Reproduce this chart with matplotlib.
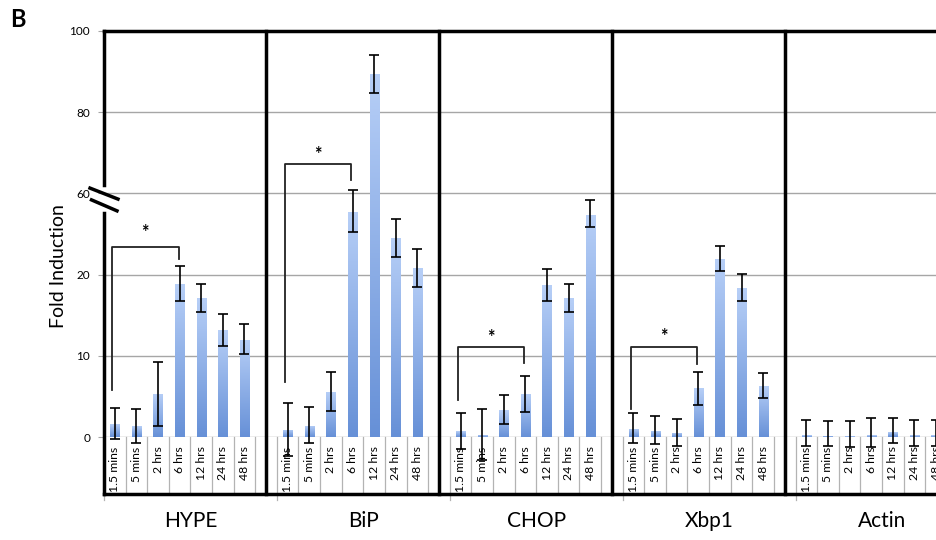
import numpy as np
import matplotlib
matplotlib.use("Agg")
import matplotlib.pyplot as plt
from matplotlib import transforms
from matplotlib.colors import LinearSegmentedColormap

plt.rcParams["font.family"] = ["Lato", "DejaVu Sans"]

genes = ["HYPE", "BiP", "CHOP", "Xbp1", "Actin"]
times = ["1.5 mins", "5 mins", "2 hrs", "6 hrs", "12 hrs", "24 hrs", "48 hrs"]

hype = [1.6, 1.3, 5.3, 18.8, 17.1, 13.2, 12.0]
hype_lo = [1.9, 2.0, 3.95, 2.1, 1.7, 2.0, 1.8]
hype_hi = [2.0, 2.1, 3.95, 5.4, 1.7, 2.0, 1.9]

bip = [0.9, 1.4, 5.6, 51.0, 89.4, 37.9, 23.1]
bip_lo = [3.3, 2.2, 2.35, 10.0, 4.6, 9.3, 4.6]
bip_hi = [3.3, 2.3, 2.4, 9.8, 4.7, 9.7, 9.5]

chop = [0.7, 0.3, 3.3, 5.3, 18.7, 17.1, 49.4]
chop_lo = [2.2, 3.1, 1.65, 2.2, 1.9, 1.75, 6.1]
chop_hi = [2.2, 3.1, 1.9, 2.25, 3.9, 1.7, 7.4]

xbp1 = [1.0, 0.8, 0.55, 6.0, 27.5, 18.3, 6.3]
xbp1_lo = [1.7, 1.7, 1.6, 2.0, 5.7, 1.6, 1.5]
xbp1_hi = [2.0, 1.8, 1.65, 2.0, 6.6, 2.0, 1.6]

actin = [0.2, 0.15, 0.1, 0.2, 0.6, 0.2, 0.2]
actin_lo = [1.3, 1.3, 1.3, 1.4, 1.3, 1.3, 1.3]
actin_hi = [1.9, 1.8, 1.9, 2.2, 1.8, 1.9, 1.9]

values = [hype, bip, chop, xbp1, actin]
errs_lo = [hype_lo, bip_lo, chop_lo, xbp1_lo, actin_lo]
errs_hi = [hype_hi, bip_hi, chop_hi, xbp1_hi, actin_hi]

# significance brackets: group, left end, top, right end, star height
brackets = [
    (0, 5.8, 33.4, 27.6, 40.6),
    (1, 6.8, 67.2, 63.4, 69.7),
    (2, 4.6, 11.05, 9.1, 12.2),
    (3, 3.5, 11.1, 9.0, 12.35),
]

yticks = [0, 10, 20, 60, 80, 100]
# broken axis: 0-20 normal, 20-60 squeezed, 60-100 half scale
brk_v = [0, 10, 20, 60, 80, 100]
brk_u = [0, 1, 2, 3, 4, 5]


def fwd(v):
    v = np.asarray(v, float)
    return np.where(v < 0, v / 10, np.interp(v, brk_v, brk_u))


def inv(u):
    u = np.asarray(u, float)
    return np.where(u < 0, u * 10, np.interp(u, brk_u, brk_v))


fig = plt.figure(figsize=(9.36, 5.4), dpi=100)
ax = fig.add_axes([104 / 936, 103 / 540, 832 / 936, 406 / 540])
ax.set_yscale("function", functions=(fwd, inv))
ax.set_xlim(-0.5, 38.0)
ax.set_ylim(0, 100)

cmap = LinearSegmentedColormap.from_list("bars", ["#b7cff7", "#6690d7"])
grad = np.repeat(np.linspace(1, 0, 512).reshape(-1, 1), 2, axis=1)
to_axes = ax.transData + ax.transAxes.inverted()

for g in range(len(genes)):
    xs = [8 * g + k for k in range(len(times))]
    bars = ax.bar(xs, values[g], width=0.42, color="none", zorder=2)
    for r in bars:
        x0 = r.get_x()
        (ax0, ay0), (ax1, ay1) = to_axes.transform([(x0, 0), (x0 + r.get_width(), r.get_height())])
        im = ax.imshow(grad, extent=(ax0, ax1, ay0, ay1), transform=ax.transAxes,
                       aspect="auto", cmap=cmap, origin="lower", zorder=2,
                       interpolation="bilinear", interpolation_stage="rgba")
        im.set_clip_path(r)
    eb = ax.errorbar(xs, values[g], yerr=[errs_lo[g], errs_hi[g]], fmt="none",
                     ecolor="black", elinewidth=1.2, capsize=3.5, capthick=1.2,
                     zorder=3)
    for art in list(eb.lines[1]) + list(eb.lines[2]):
        art.set_clip_on(False)

for g, yl, yt, yr, ys in brackets:
    left = 8 * g - 0.12
    right = 8 * g + 3 - 0.05
    ax.plot([left, left, right, right], [yl, yt, yt, yr], color="#222222", lw=1.3, zorder=3)
    ax.text(8 * g + 1.4, ys, "*", ha="center", va="center", fontsize=13, fontweight="bold")

ax.set_xlim(-0.5, 38.0)
ax.set_ylim(0, 100)
ax.set_yticks(yticks)
ax.set_xticks([])
ax.yaxis.grid(True, color="#a6a6a6", lw=1)
ax.set_axisbelow(True)
ax.tick_params(axis="y", length=4, color="#a6a6a6", labelsize=8.5, pad=6)

for s in ["left", "right", "bottom"]:
    ax.spines[s].set_visible(False)
ax.spines["top"].set_linewidth(2.5)

tr = transforms.blended_transform_factory(ax.transData, ax.transAxes)
zone = 57 / 406

# category boxes under the axis
for i in range(39):
    ax.plot([i + 0.5] * 2, [0, -zone], transform=tr, color="#b3b3b3", lw=0.9,
            clip_on=False, zorder=1)
for g in range(4):
    x = 8 * g + 7
    ax.plot([x, x], [1, -zone], transform=tr, color="black", lw=2.5,
            clip_on=False, zorder=4)
for g in range(5):
    x = 8 * g - 0.5
    ax.plot([x, x], [-zone, -zone - 0.015], transform=tr, color="#b3b3b3", lw=0.9,
            clip_on=False)
ax.plot([-0.5, 38.0], [-zone, -zone], transform=tr, color="black", lw=2.5,
        clip_on=False, zorder=4)

# broken left axis
ax.plot([-0.5, -0.5], [0.621, 1], transform=tr, color="black", lw=2.5,
        clip_on=False, zorder=4, solid_capstyle="projecting")
ax.plot([-0.5, -0.5], [0.551, -zone], transform=tr, color="black", lw=2.5,
        clip_on=False, zorder=4)
ax.plot([-0.0168, 0.0168], [0.613, 0.586], transform=ax.transAxes, color="black",
        lw=2.5, clip_on=False, zorder=4)
ax.plot([-0.0150, 0.0156], [0.584, 0.557], transform=ax.transAxes, color="black",
        lw=2.5, clip_on=False, zorder=4)

for g, gene in enumerate(genes):
    for k, t in enumerate(times):
        ax.text(8 * g + k, -0.023, t, transform=tr, rotation=90, ha="center",
                va="top", fontsize=8.8)

trf = transforms.blended_transform_factory(ax.transData, fig.transFigure)
for g, gene in enumerate(genes):
    ax.text(8 * g + 3.5, 1 - 521 / 540, gene, transform=trf, ha="center",
            va="center", fontsize=15)

fig.text(58 / 936, 1 - 266 / 540, "Fold Induction", rotation=90, ha="center",
         va="center", fontsize=14)
fig.text(10 / 936, 1 - 27 / 540, "B", fontsize=17, fontweight="bold", va="baseline")

fig.savefig("out.png", dpi=100)
